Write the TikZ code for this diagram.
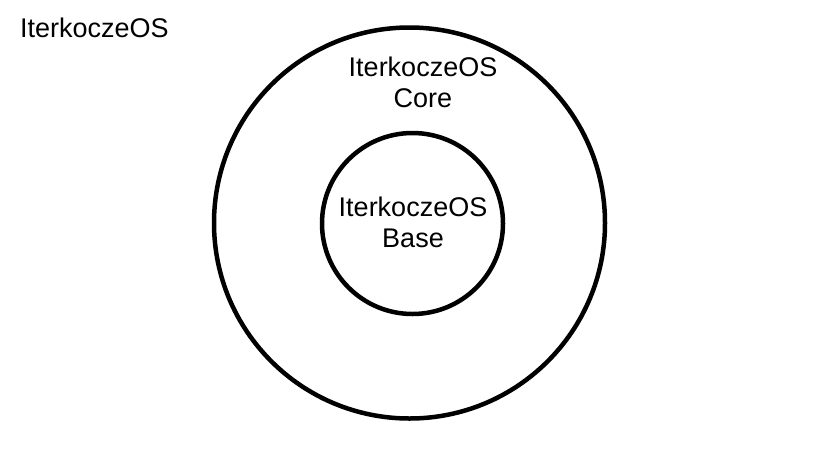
\documentclass[tikz,border=0pt]{standalone}
\usepackage{fontspec}
\setmainfont{Liberation Sans}
\begin{document}
\begin{tikzpicture}[x=1pt,y=-1pt,
  ring/.style={draw=black,line width=4.5pt,circle,inner sep=0pt},
  lbl/.style={font=\fontsize{27}{31}\selectfont,align=center,inner sep=0pt}]
\useasboundingbox[fill=white] (0,0) rectangle (824,475);
\node[ring,minimum size=391pt] (outer) at (409.5,223) {};
\node[ring,minimum size=181pt] (inner) at (412.5,223.5) {};
\node[lbl,anchor=base west] (title) at (20,37) {IterkoczeOS};
\node[lbl,anchor=center] (core) at (423,82) {IterkoczeOS\\Core};
\node[lbl,anchor=center] (base) at (413,222) {IterkoczeOS\\Base};
\end{tikzpicture}
\end{document}
